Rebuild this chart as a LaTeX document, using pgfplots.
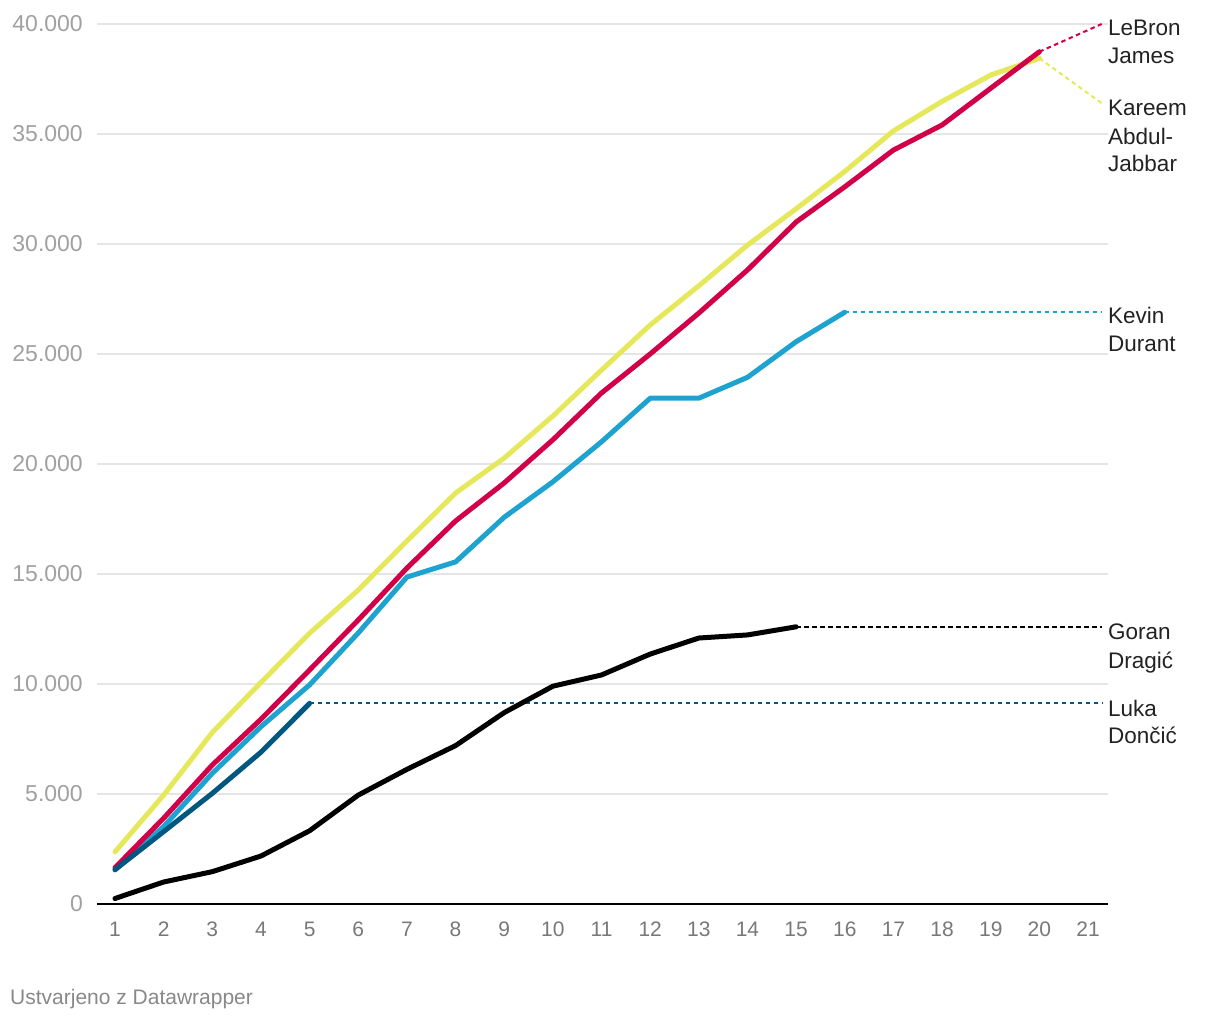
\documentclass[border=0pt]{standalone}
\usepackage{fontspec}
\setmainfont{Liberation Sans}
\usepackage{pgfplots}
\pgfplotsset{compat=1.18}

\definecolor{kareem}{RGB}{228,232,90}
\definecolor{lebron}{RGB}{210,0,72}
\definecolor{durant}{RGB}{30,163,208}
\definecolor{luka}{RGB}{0,88,128}
\definecolor{gridgray}{RGB}{229,229,229}
\definecolor{ytgray}{RGB}{160,160,160}
\definecolor{xtgray}{RGB}{120,120,120}
\definecolor{footgray}{RGB}{136,136,136}
\definecolor{labtext}{RGB}{34,34,34}

\tikzset{
    lab/.style={anchor=base west, inner sep=0pt, text=labtext,
        font=\fontsize{22.5}{28}\selectfont},
    conn/.style={line width=2pt, dash pattern=on 4.5pt off 3.5pt, line cap=butt},
}

\begin{document}
\begin{tikzpicture}
\begin{axis}[
    name=main,
    at={(0pt,0pt)}, anchor=south west,
    scale only axis,
    width=1011pt, height=880pt,
    xmin=0.63, xmax=21.41,
    ymin=0, ymax=40000,
    xtick={1,...,21},
    ytick={0,5000,...,40000},
    scaled y ticks=false,
    major tick length=0pt,
    ymajorgrids,
    grid style={gridgray, line width=1.5pt},
    axis x line=bottom, axis y line=left,
    x axis line style={black, line width=2.5pt, -},
    y axis line style={draw=none},
    y tick label style={inner sep=0pt, anchor=east, xshift=-14pt,
        text=ytgray, font=\fontsize{23}{28}\selectfont,
        /pgf/number format/1000 sep={.}, /pgf/number format/assume math mode=true},
    x tick label style={inner sep=0pt, anchor=north, yshift=-18pt,
        text=xtgray, font=\fontsize{21}{25}\selectfont,
        /pgf/number format/assume math mode=true},
    clip=false,
    every axis plot/.append style={line width=5pt, line cap=round, line join=round},
]
% dotted connectors
\addplot[conn, lebron] coordinates {(20,38740) (21.28,40000)};
\addplot[conn, kareem] coordinates {(20,38440) (21.28,36400)};
\addplot[conn, durant] coordinates {(16,26900) (21.28,26900)};
\addplot[conn, black] coordinates {(15,12600) (21.28,12600)};
\addplot[conn, luka] coordinates {(5,9120) (21.28,9120)};

% Goran Dragic
\addplot[black] coordinates {
(1,250) (2,1000) (3,1470) (4,2180) (5,3330) (6,4950) (7,6120) (8,7200)
(9,8700) (10,9900) (11,10410) (12,11360) (13,12090) (14,12230) (15,12600)};
% Kareem Abdul-Jabbar
\addplot[kareem] coordinates {
(1,2370) (2,4950) (3,7800) (4,10070) (5,12310) (6,14270) (7,16500) (8,18680)
(9,20270) (10,22180) (11,24270) (12,26320) (13,28100) (14,29950) (15,31600)
(16,33300) (17,35140) (18,36480) (19,37680) (20,38440)};
% Kevin Durant
\addplot[durant] coordinates {
(1,1550) (2,3520) (3,5940) (4,8060) (5,9960) (6,12320) (7,14860) (8,15550)
(9,17580) (10,19190) (11,21010) (12,22990) (13,22990) (14,23940) (15,25560)
(16,26900)};
% LeBron James
\addplot[lebron] coordinates {
(1,1650) (2,3900) (3,6320) (4,8400) (5,10640) (6,12910) (7,15270) (8,17410)
(9,19140) (10,21100) (11,23230) (12,25000) (13,26860) (14,28820) (15,31000)
(16,32600) (17,34270) (18,35410) (19,37080) (20,38740)};
% Luka Doncic
\addplot[luka] coordinates {
(1,1560) (2,3290) (3,5030) (4,6900) (5,9120)};

% labels
\node[lab] at (axis cs:21.41,39455) {LeBron};
\node[lab] at (axis cs:21.41,38182) {James};
\node[lab] at (axis cs:21.41,35818) {Kareem};
\node[lab] at (axis cs:21.41,34545) {Abdul-};
\node[lab] at (axis cs:21.41,33273) {Jabbar};
\node[lab] at (axis cs:21.41,26364) {Kevin};
\node[lab] at (axis cs:21.41,25091) {Durant};
\node[lab] at (axis cs:21.41,12000) {Goran};
\node[lab] at (axis cs:21.41,10727) {Dragić};
\node[lab] at (axis cs:21.41,8545) {Luka};
\node[lab] at (axis cs:21.41,7273) {Dončić};
\end{axis}
\node[anchor=base west, inner sep=0pt, text=footgray,
    font=\fontsize{21}{25}\selectfont] at (-87pt,-100pt) {Ustvarjeno z Datawrapper};
\pgfresetboundingbox
\path[use as bounding box] (-97pt,-116pt) rectangle (1123pt,904pt);
\end{tikzpicture}
\end{document}
